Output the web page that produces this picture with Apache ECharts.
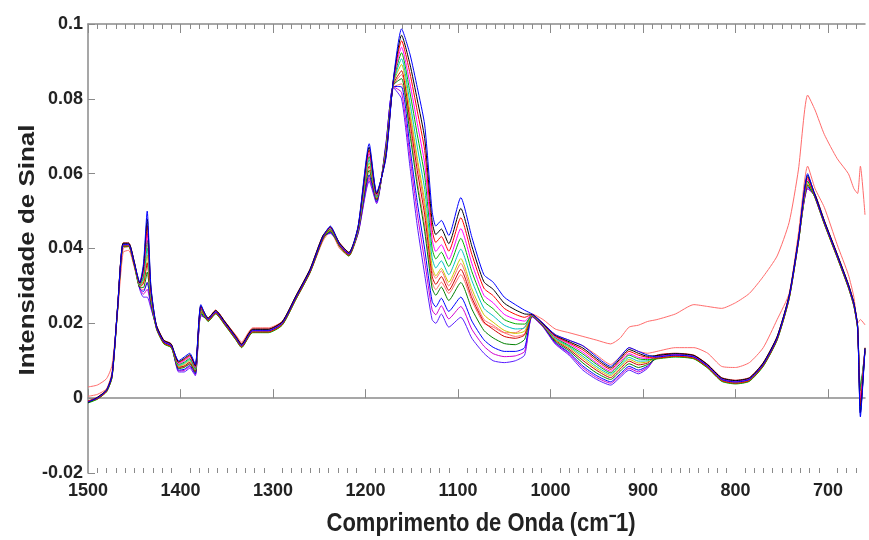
<!DOCTYPE html>
<html>
<head>
<meta charset="utf-8">
<script src="https://cdn.jsdelivr.net/npm/echarts@6/dist/echarts.min.js"></script>
<style>
  html, body { margin: 0; padding: 0; background: #fff; }
  #chart { width: 869px; height: 540px; }
</style>
</head>
<body>
<div id="chart"></div>
<script>
// wavenumbers (cm-1), shared by every spectrum
const wavenumber = [
  1500,1490,1480,1474,1468,1462,1456,1450,1444,1440,
  1436,1432,1426,1418,1410,1402,1396,1390,1384,1378,
  1370,1362,1352,1340,1334,1322,1305,1290,1275,1260,
  1246,1238,1228,1218,1208,1196,1188,1178,1170,1161,
  1152,1144,1136,1128,1124,1118,1110,1097,1085,1072,
  1062,1050,1038,1028,1020,1008,995,980,965,950,
  935,925,915,905,895,885,865,845,830,815,
  800,785,770,755,742,732,722,714,704,690,
  678,672,668,665,660
];

const xTicks = [1500, 1400, 1300, 1200, 1100, 1000, 900, 800, 700];
const yTicks = [-0.02, 0, 0.02, 0.04, 0.06, 0.08, 0.1];

// the main group of spectra, from the highest at 1100 cm-1 to the lowest
const s01 = [
  -0.001,0,0.002,0.006,0.024,0.041,0.041,0.036,0.031,0.036,
  0.050,0.030,0.019,0.015,0.014,0.010,0.011,0.012,0.009,0.025,
  0.021,0.023,0.020,0.016,0.014,0.018,0.018,0.020,0.027,0.034,
  0.043,0.046,0.041,0.0385,0.046,0.068,0.055,0.064,0.085,0.0987,
  0.092,0.083,0.073,0.050,0.046,0.0475,0.0435,0.0536,0.043,0.033,
  0.031,0.027,0.025,0.0235,0.0225,0.020,0.017,0.0155,0.014,0.011,
  0.0085,0.011,0.0135,0.0125,0.0115,0.011,0.0115,0.011,0.0085,0.005,
  0.0043,0.005,0.009,0.016,0.027,0.042,0.060,0.054,0.047,0.038,
  0.030,0.025,0.019,-0.005,0.013
];
const s02 = [
  -0.0012,0.0002,0.0021,0.0062,0.0244,0.0414,0.0414,0.0364,0.0308,0.0352,
  0.0479,0.0295,0.0194,0.0154,0.0144,0.0097,0.0106,0.0116,0.0087,0.0247,
  0.0214,0.0234,0.0204,0.0164,0.0144,0.0184,0.0184,0.0204,0.0274,0.0344,
  0.0434,0.0458,0.0414,0.0389,0.0458,0.0671,0.0547,0.0644,0.0848,0.097,
  0.0893,0.0797,0.0694,0.0474,0.0437,0.0452,0.0413,0.0507,0.0406,0.0311,
  0.0291,0.0254,0.0236,0.0225,0.0224,0.0199,0.0168,0.0151,0.0134,0.0105,
  0.0081,0.0105,0.013,0.012,0.0112,0.0114,0.0119,0.0114,0.0089,0.0054,
  0.0047,0.0054,0.0094,0.0164,0.0274,0.0424,0.0595,0.0544,0.0474,0.0384,
  0.0304,0.0254,0.0194,-0.004,0.0134
];
const s03 = [
  -0.0008,-0.0002,0.0018,0.0058,0.0237,0.0407,0.0407,0.0357,0.0307,0.0345,
  0.0461,0.029,0.0187,0.0147,0.0137,0.0095,0.0103,0.0113,0.0085,0.0245,
  0.0207,0.0227,0.0197,0.0157,0.0137,0.0177,0.0177,0.0197,0.0267,0.0337,
  0.0427,0.0457,0.0407,0.0382,0.0457,0.0663,0.0545,0.0647,0.0847,0.0955,
  0.0869,0.0767,0.0662,0.0451,0.0416,0.0432,0.0393,0.0482,0.0384,0.0294,
  0.0274,0.024,0.0224,0.0216,0.0224,0.0198,0.0166,0.0148,0.0129,0.010,
  0.0077,0.0101,0.0125,0.0115,0.0109,0.0107,0.0112,0.0107,0.0082,0.0047,
  0.004,0.0047,0.0087,0.0157,0.0267,0.0417,0.059,0.0537,0.0467,0.0377,
  0.0297,0.0247,0.0187,-0.002,0.0127
];
const s04 = [
  -0.001,0.0001,0.0021,0.0061,0.0242,0.0412,0.0412,0.0362,0.0305,0.0337,
  0.044,0.0284,0.0192,0.0152,0.0142,0.0092,0.010,0.011,0.0082,0.0242,
  0.0212,0.0232,0.0202,0.0162,0.0142,0.0182,0.0182,0.0202,0.0272,0.0342,
  0.0432,0.0455,0.0412,0.0387,0.0455,0.0654,0.0542,0.065,0.0845,0.0938,
  0.0842,0.0734,0.0626,0.0425,0.0392,0.041,0.0371,0.0453,0.036,0.0275,
  0.0255,0.0224,0.0211,0.0206,0.0223,0.0197,0.0164,0.0145,0.0123,0.0094,
  0.0072,0.0096,0.0119,0.0109,0.0106,0.0112,0.0117,0.0112,0.0087,0.0052,
  0.0045,0.0052,0.0092,0.0162,0.0272,0.0422,0.0585,0.0542,0.0472,0.0382,
  0.0302,0.0252,0.0192,0.0,0.0132
];
const s05 = [
  -0.0013,-0.0003,0.0017,0.0055,0.0235,0.0405,0.0405,0.0355,0.0303,0.0329,
  0.0422,0.028,0.0185,0.0145,0.0135,0.009,0.0096,0.0106,0.008,0.024,
  0.0205,0.0225,0.0195,0.0155,0.0135,0.0175,0.0175,0.0195,0.0265,0.0335,
  0.0425,0.0453,0.0405,0.038,0.0453,0.0646,0.054,0.0654,0.0843,0.0923,
  0.0818,0.0704,0.0594,0.0401,0.0372,0.039,0.0352,0.0427,0.0338,0.0259,
  0.0239,0.021,0.0199,0.0198,0.0222,0.0197,0.0162,0.0141,0.0118,0.009,
  0.0068,0.0091,0.0115,0.0105,0.0103,0.0105,0.011,0.0105,0.008,0.0045,
  0.0038,0.0045,0.0085,0.0155,0.0265,0.0415,0.058,0.0535,0.0465,0.0375,
  0.0295,0.0245,0.0185,0.002,0.0125
];
const s06 = [
  -0.0009,0.0001,0.0022,0.0062,0.0243,0.0413,0.0413,0.0363,0.0301,0.0321,
  0.0401,0.0274,0.0193,0.0153,0.0143,0.0087,0.0093,0.0103,0.0077,0.0237,
  0.0213,0.0233,0.0203,0.0163,0.0143,0.0183,0.0183,0.0203,0.0273,0.0343,
  0.0433,0.0451,0.0413,0.0388,0.0451,0.0637,0.0537,0.0657,0.0841,0.0907,
  0.0791,0.0671,0.0558,0.0375,0.0348,0.0367,0.033,0.0398,0.0314,0.024,
  0.022,0.0195,0.0185,0.0188,0.0222,0.0196,0.0159,0.0138,0.0112,0.0084,
  0.0064,0.0086,0.0109,0.0099,0.010,0.0113,0.0118,0.0113,0.0088,0.0053,
  0.0046,0.0053,0.0093,0.0163,0.0273,0.0423,0.058,0.0543,0.0473,0.0383,
  0.0303,0.0253,0.0193,-0.003,0.0133
];
const s07 = [
  -0.0011,-0.0001,0.0019,0.0059,0.0238,0.0408,0.0408,0.0358,0.030,0.0314,
  0.0383,0.0269,0.0188,0.0148,0.0138,0.0085,0.009,0.010,0.0075,0.0235,
  0.0208,0.0228,0.0198,0.0158,0.0138,0.0178,0.0178,0.0198,0.0268,0.0338,
  0.0428,0.045,0.0408,0.0383,0.045,0.0629,0.0535,0.066,0.084,0.0892,
  0.0767,0.0641,0.0526,0.0352,0.0327,0.0347,0.031,0.0373,0.0292,0.0223,
  0.0203,0.0181,0.0173,0.0179,0.0221,0.0195,0.0157,0.0135,0.0107,0.0079,
  0.006,0.0082,0.0104,0.0094,0.0097,0.0108,0.0113,0.0108,0.0083,0.0048,
  0.0041,0.0048,0.0088,0.0158,0.0268,0.0418,0.0575,0.0538,0.0468,0.0378,
  0.0298,0.0248,0.0188,0.001,0.0128
];
const s08 = [
  -0.0007,0.0002,0.0023,0.0064,0.0245,0.0415,0.0415,0.0365,0.0298,0.0306,
  0.0362,0.0264,0.0195,0.0155,0.0145,0.0082,0.0086,0.0096,0.0072,0.0232,
  0.0215,0.0235,0.0205,0.0165,0.0145,0.0185,0.0185,0.0205,0.0275,0.0345,
  0.0435,0.0448,0.0415,0.039,0.0448,0.062,0.0532,0.0664,0.0838,0.0875,
  0.074,0.0608,0.049,0.0326,0.0304,0.0325,0.0288,0.0344,0.0268,0.0204,
  0.0184,0.0165,0.016,0.0169,0.022,0.0194,0.0155,0.0131,0.0101,0.0074,
  0.0055,0.0077,0.0099,0.0089,0.0094,0.0115,0.012,0.0115,0.009,0.0055,
  0.0048,0.0055,0.0095,0.0165,0.0275,0.0425,0.057,0.0545,0.0475,0.0385,
  0.0305,0.0255,0.0195,-0.001,0.0135
];
const s09 = [
  -0.0012,-0.0002,0.0017,0.0056,0.0236,0.0406,0.0406,0.0356,0.0296,0.0296,
  0.0337,0.0257,0.0186,0.0146,0.0136,0.0079,0.0082,0.0092,0.0069,0.0229,
  0.0206,0.0226,0.0196,0.0156,0.0136,0.0176,0.0176,0.0196,0.0266,0.0336,
  0.0426,0.0446,0.0406,0.0381,0.0446,0.0609,0.0529,0.0668,0.0836,0.0854,
  0.0707,0.0567,0.0446,0.0294,0.0275,0.0297,0.0261,0.0309,0.0238,0.0181,
  0.0161,0.0146,0.0143,0.0157,0.022,0.0193,0.0152,0.0127,0.0094,0.0067,
  0.005,0.0071,0.0092,0.0082,0.009,0.0106,0.0111,0.0106,0.0081,0.0046,
  0.0039,0.0046,0.0086,0.0156,0.0266,0.0416,0.057,0.0536,0.0466,0.0376,
  0.0296,0.0246,0.0186,0.003,0.0126
];
const s10 = [
  -0.001,0.0001,0.002,0.0061,0.0241,0.0411,0.0411,0.0361,0.0293,0.0285,
  0.0309,0.025,0.0191,0.0151,0.0141,0.0075,0.0077,0.0087,0.0065,0.0225,
  0.0211,0.0231,0.0201,0.0161,0.0141,0.0181,0.0181,0.0201,0.0271,0.0341,
  0.0431,0.0443,0.0411,0.0386,0.0443,0.0597,0.0525,0.0673,0.0833,0.0832,
  0.0671,0.0523,0.0398,0.0259,0.0244,0.0267,0.0232,0.027,0.0206,0.0156,
  0.0136,0.0125,0.0125,0.0135,0.0219,0.0192,0.0149,0.0122,0.0086,0.006,
  0.0044,0.0064,0.0085,0.0075,0.0086,0.0111,0.0116,0.0111,0.0086,0.0051,
  0.0044,0.0051,0.0091,0.0161,0.0271,0.0421,0.0565,0.0541,0.0471,0.0381,
  0.0301,0.0251,0.0191,-0.004,0.0131
];
const s11 = [
  -0.0011,-0.0001,0.0019,0.0059,0.0239,0.0409,0.0409,0.0359,0.0292,0.0278,
  0.0291,0.0245,0.0189,0.0149,0.0139,0.0073,0.0074,0.0084,0.0063,0.0223,
  0.0209,0.0229,0.0199,0.0159,0.0139,0.0179,0.0179,0.0199,0.0269,0.0339,
  0.0429,0.0442,0.0409,0.0384,0.0442,0.0589,0.0523,0.0676,0.0832,0.0817,
  0.0647,0.0493,0.0366,0.0236,0.0223,0.0247,0.0212,0.0245,0.0184,0.0139,
  0.0119,0.0111,0.0113,0.0125,0.0218,0.0191,0.0147,0.0119,0.0081,0.0055,
  0.004,0.006,0.008,0.007,0.0083,0.0109,0.0114,0.0109,0.0084,0.0049,
  0.0042,0.0049,0.0089,0.0159,0.0269,0.0419,0.056,0.0539,0.0469,0.0379,
  0.0299,0.0249,0.0189,0.0,0.0129
];
const s12 = [
  -0.0009,0.0001,0.0022,0.0062,0.0243,0.0413,0.0413,0.0363,0.029,0.027,
  0.027,0.024,0.0193,0.0153,0.0143,0.007,0.007,0.008,0.006,0.022,
  0.0213,0.0233,0.0203,0.0163,0.0143,0.0183,0.0183,0.0203,0.0273,0.0343,
  0.0433,0.044,0.0413,0.0388,0.044,0.058,0.052,0.068,0.083,0.080,
  0.062,0.046,0.033,0.021,0.020,0.0225,0.019,0.0216,0.016,0.012,
  0.010,0.0095,0.010,0.0115,0.0218,0.019,0.0145,0.0115,0.0075,0.005,
  0.0035,0.0055,0.0075,0.0065,0.008,0.0113,0.0118,0.0113,0.0088,0.0053,
  0.0046,0.0053,0.0093,0.0163,0.0273,0.0423,0.056,0.0543,0.0473,0.0383,
  0.0303,0.0253,0.0193,0.002,0.0133
];
// the two samples that stand apart (red)
const redHigh = [
  0.003,0.0035,0.0052,0.0088,0.023,0.039,0.0395,0.035,0.0295,0.029,
  0.031,0.026,0.0195,0.0155,0.0145,0.0085,0.0085,0.009,0.007,0.023,
  0.0215,0.0235,0.0205,0.0168,0.015,0.0188,0.0188,0.0205,0.0265,0.0335,
  0.042,0.0445,0.040,0.038,0.044,0.0585,0.053,0.067,0.083,0.084,
  0.072,0.058,0.046,0.031,0.029,0.031,0.028,0.033,0.026,0.020,
  0.019,0.0175,0.0175,0.019,0.0225,0.021,0.0185,0.0175,0.0165,0.0155,
  0.0145,0.016,0.019,0.0195,0.0205,0.021,0.0225,0.025,0.0245,0.024,
  0.0255,0.028,0.0325,0.038,0.047,0.061,0.081,0.077,0.0705,0.064,
  0.060,0.056,0.0547,0.062,0.049
];
const redLow = [
  0.0005,0.001,0.0025,0.007,0.024,0.040,0.0405,0.0355,0.030,0.031,
  0.036,0.027,0.019,0.015,0.014,0.008,0.0085,0.0095,0.007,0.0235,
  0.021,0.023,0.020,0.0162,0.0145,0.0182,0.0182,0.020,0.0268,0.0338,
  0.0425,0.0448,0.0405,0.0382,0.0445,0.0595,0.0535,0.0665,0.0835,0.0865,
  0.0755,0.063,0.051,0.034,0.032,0.034,0.030,0.036,0.028,0.021,
  0.0195,0.0175,0.0165,0.0172,0.0225,0.020,0.017,0.0155,0.014,0.0115,
  0.009,0.011,0.0135,0.0125,0.012,0.0125,0.0135,0.0135,0.012,0.0085,
  0.0082,0.0095,0.0135,0.021,0.028,0.044,0.062,0.056,0.051,0.041,
  0.033,0.027,0.020,0.021,0.0196
];

const spectra = [
  { values: redHigh, color: "#ff6b6b" },
  { values: redLow, color: "#ff6b6b" },
  { values: s12, color: "#5a1cff" },
  { values: s11, color: "#d000d0" },
  { values: s10, color: "#0000ff" },
  { values: s09, color: "#008000" },
  { values: s08, color: "#d00000" },
  { values: s07, color: "#c8c800" },
  { values: s06, color: "#00c0c0" },
  { values: s05, color: "#00b000" },
  { values: s04, color: "#ff00ff" },
  { values: s03, color: "#ff0000" },
  { values: s02, color: "#000000" },
  { values: s01, color: "#0000ff" }
];

// minor ticks every 10 cm-1 between the labelled ones
const xMinorTicks = [];
for (let w = 670; w < 1500; w += 10) {
  if (w % 100 !== 0) xMinorTicks.push(w);
}

const font = '"Liberation Sans", Arial, sans-serif';
const axisGrey = "#8a8a8a";
const chart = echarts.init(document.getElementById("chart"), null, { renderer: "canvas" });

function xAxisDef(position, ticks, tickLen, withLine, withLabels) {
  return {
    type: "value",
    inverse: true,
    min: 660,
    max: 1500,
    position: position,
    axisLine: { show: withLine, lineStyle: { color: axisGrey, width: 1.5 } },
    axisTick: { show: true, inside: true, length: tickLen, customValues: ticks, lineStyle: { color: axisGrey } },
    axisLabel: withLabels ? {
      show: true,
      customValues: xTicks,
      margin: 9,
      formatter: (v) => String(v),
      fontFamily: font, fontWeight: "bold", fontSize: 18, color: "#222"
    } : { show: false },
    splitLine: { show: false }
  };
}

chart.setOption({
  animation: false,
  backgroundColor: "#fff",
  grid: { left: 88, top: 24, bottom: 67, right: 4 },
  xAxis: [
    xAxisDef("bottom", xTicks, 9, true, true),
    xAxisDef("top", xTicks, 9, true, false),
    xAxisDef("bottom", xMinorTicks, 5, false, false),
    xAxisDef("top", xMinorTicks, 5, false, false)
  ],
  yAxis: {
    type: "value",
    min: -0.02,
    max: 0.1,
    interval: 0.02,
    axisLine: { show: true, lineStyle: { color: axisGrey, width: 1.5 } },
    axisTick: { show: true, inside: true, length: 7, lineStyle: { color: axisGrey } },
    splitLine: { show: false },
    axisLabel: {
      margin: 5,
      fontFamily: font, fontWeight: "bold", fontSize: 18, color: "#222",
      formatter: (v) => {
        const t = yTicks.find((k) => Math.abs(k - v) < 1e-9);
        return t === undefined ? "" : String(t);
      }
    }
  },
  graphic: [
    {
      type: "text",
      x: 481,
      y: 524,
      scaleY: 1.15,
      style: {
        text: "Comprimento de Onda (cm\u207B1)",
        align: "center", verticalAlign: "middle",
        fontFamily: font, fontWeight: "bold", fontSize: 22, fill: "#222"
      }
    },
    {
      type: "text",
      x: 28,
      y: 250,
      rotation: Math.PI / 2,
      scaleX: 1.18,
      style: {
        text: "Intensidade de Sinal",
        align: "center", verticalAlign: "middle",
        fontFamily: font, fontWeight: "bold", fontSize: 22, fill: "#222"
      }
    }
  ],
  series: spectra.map((s) => ({
    type: "line",
    xAxisIndex: 0,
    data: wavenumber.map((w, i) => [w, s.values[i]]),
    showSymbol: false,
    smooth: 0.2,
    lineStyle: { width: 1, color: s.color },
    itemStyle: { color: s.color },
    emphasis: { disabled: true }
  }))
});
</script>
</body>
</html>
